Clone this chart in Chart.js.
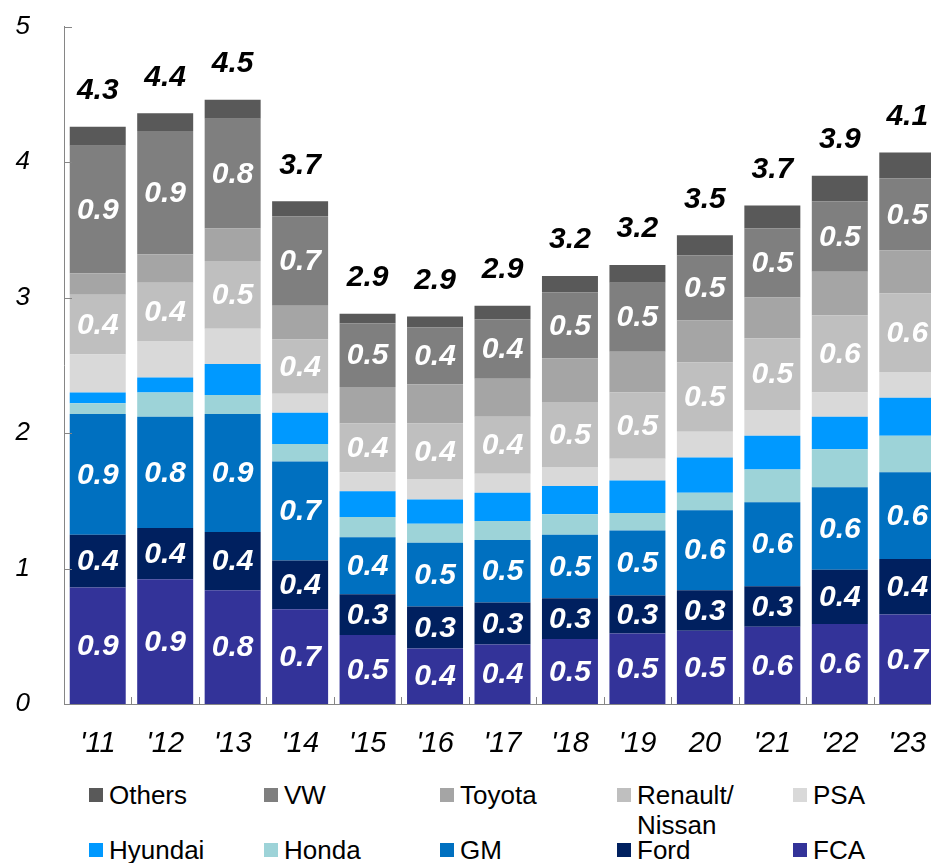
<!DOCTYPE html>
<html>
<head>
<meta charset="utf-8">
<script src="https://cdn.jsdelivr.net/npm/chart.js@4"></script>
<style>
  html, body { margin: 0; padding: 0; background: #fff; overflow: hidden; }
  #wrap { position: relative; width: 931px; height: 863px; overflow: hidden; }
  #chart { position: absolute; left: 0; top: -23px; }
  .lg { position: absolute; font-family: "Liberation Sans", Arial, sans-serif; font-size: 26px; color: #000; line-height: 30px; }
  .lg i { position: absolute; left: 0; top: 8px; width: 14px; height: 14px; }
  .lg span { position: absolute; left: 20px; top: 0; white-space: nowrap; }
</style>
</head>
<body>
<div id="wrap">
  <canvas id="chart" width="945" height="793"></canvas>
  <div id="legend"></div>
</div>
<script>
// ─── Data ───────────────────────────────────────────────────────
const years = ["'11", "'12", "'13", "'14", "'15", "'16", "'17", "'18", "'19", "20", "'21", "'22", "'23"];

const fca     = [0.86, 0.92, 0.84, 0.70, 0.51, 0.41, 0.44, 0.48, 0.52, 0.54, 0.57, 0.59, 0.66];
const ford    = [0.39, 0.38, 0.43, 0.36, 0.30, 0.31, 0.31, 0.30, 0.28, 0.30, 0.30, 0.40, 0.41];
const gm      = [0.89, 0.82, 0.87, 0.73, 0.42, 0.47, 0.46, 0.47, 0.48, 0.59, 0.62, 0.61, 0.64];
const honda   = [0.08, 0.18, 0.14, 0.13, 0.15, 0.14, 0.14, 0.15, 0.13, 0.13, 0.24, 0.28, 0.27];
const hyundai = [0.08, 0.11, 0.23, 0.23, 0.19, 0.18, 0.21, 0.21, 0.24, 0.26, 0.25, 0.24, 0.28];
const psa     = [0.28, 0.27, 0.26, 0.14, 0.14, 0.15, 0.14, 0.14, 0.16, 0.19, 0.19, 0.18, 0.19];
const renault = [0.44, 0.43, 0.50, 0.40, 0.36, 0.41, 0.42, 0.48, 0.49, 0.51, 0.53, 0.57, 0.58];
const toyota  = [0.16, 0.21, 0.24, 0.25, 0.27, 0.29, 0.28, 0.32, 0.30, 0.31, 0.30, 0.32, 0.32];
const vw      = [0.94, 0.91, 0.81, 0.66, 0.47, 0.42, 0.44, 0.49, 0.51, 0.48, 0.51, 0.52, 0.53];
const others  = [0.14, 0.13, 0.14, 0.11, 0.07, 0.08, 0.10, 0.12, 0.13, 0.15, 0.17, 0.19, 0.19];

const yTicks = [0, 1, 2, 3, 4, 5];

// bottom-to-top stacking order
const series = [
  { name: "FCA",             data: fca,     color: "#333399", label: true },
  { name: "Ford",            data: ford,    color: "#00205f", label: true },
  { name: "GM",              data: gm,      color: "#0070c0", label: true },
  { name: "Honda",           data: honda,   color: "#9dd3d8", label: false },
  { name: "Hyundai",         data: hyundai, color: "#0099ff", label: false },
  { name: "PSA",             data: psa,     color: "#d9d9d9", label: false },
  { name: "Renault/\nNissan", data: renault, color: "#bfbfbf", label: true },
  { name: "Toyota",          data: toyota,  color: "#a5a5a5", label: false },
  { name: "VW",              data: vw,      color: "#7f7f7f", label: true },
  { name: "Others",          data: others,  color: "#595959", label: false },
];

// legend grid: row 1 then row 2
const legendOrder = ["Others", "VW", "Toyota", "Renault/\nNissan", "PSA",
                     "Hyundai", "Honda", "GM", "Ford", "FCA"];

const fmt = (v) => (Math.round(v * 10 + 1e-6) / 10).toFixed(1);
const FONT = '"Liberation Sans", Arial, sans-serif';

// ─── Plugin: in-bar values, totals, inward ticks ────────────────
const labelsPlugin = {
  id: "labels",
  afterDatasetsDraw(chart) {
    const ctx = chart.ctx;
    const { left, bottom } = chart.chartArea;
    const x = chart.scales.x, y = chart.scales.y;

    ctx.save();
    ctx.strokeStyle = "#868686";
    ctx.lineWidth = 1;
    yTicks.forEach(t => {
      const py = Math.round(y.getPixelForValue(t)) + 0.5;
      ctx.beginPath(); ctx.moveTo(left, py); ctx.lineTo(left + 8, py); ctx.stroke();
    });
    for (let i = 1; i < years.length; i++) {
      const px = Math.round((x.getPixelForValue(i - 1) + x.getPixelForValue(i)) / 2) + 0.5;
      ctx.beginPath(); ctx.moveTo(px, bottom); ctx.lineTo(px, bottom - 7); ctx.stroke();
    }

    ctx.textAlign = "center";
    ctx.textBaseline = "middle";
    ctx.font = `italic bold 30px ${FONT}`;
    ctx.fillStyle = "#fff";
    chart.data.datasets.forEach((ds, di) => {
      if (!series[di].label) return;
      chart.getDatasetMeta(di).data.forEach((bar, i) => {
        ctx.fillText(fmt(ds.data[i]), bar.x, (bar.y + bar.base) / 2 + 1);
      });
    });

    ctx.fillStyle = "#000";
    const topMeta = chart.getDatasetMeta(chart.data.datasets.length - 1);
    years.forEach((_, i) => {
      const total = series.reduce((s, d) => s + d.data[i], 0);
      ctx.fillText(fmt(total), topMeta.data[i].x, topMeta.data[i].y - 36);
    });
    ctx.restore();
  }
};

new Chart(document.getElementById("chart").getContext("2d"), {
  type: "bar",
  data: {
    labels: years,
    datasets: series.map(s => ({
      label: s.name,
      data: s.data,
      backgroundColor: s.color,
      borderWidth: 0,
      barPercentage: 0.83,
      categoryPercentage: 1.0,
    }))
  },
  options: {
    responsive: false,
    animation: false,
    layout: { padding: { top: 2, right: 4, left: 0, bottom: 0 } },
    plugins: { legend: { display: false }, tooltip: { enabled: false } },
    scales: {
      x: {
        stacked: true,
        grid: { display: false },
        border: { display: true, color: "#868686", width: 1 },
        ticks: { color: "#000", font: { family: FONT, size: 29, style: "italic" }, padding: 15, maxRotation: 0 },
        afterFit: s => { s.height = 66; }
      },
      y: {
        stacked: true,
        min: 0, max: 5,
        afterBuildTicks: s => { s.ticks = yTicks.map(v => ({ value: v })); },
        grid: { display: false, drawTicks: false },
        border: { display: true, color: "#868686", width: 1 },
        ticks: { color: "#000", font: { family: FONT, size: 26, style: "italic" }, padding: 34 },
        afterFit: s => { s.width = 64; }
      }
    }
  },
  plugins: [labelsPlugin]
});

// ─── HTML legend ────────────────────────────────────────────────
const legendCols = [89, 264, 440, 617, 793];
const legendRows = [780, 835];
document.getElementById("legend").innerHTML = legendOrder.map((name, k) => {
  const s = series.find(d => d.name === name);
  const left = legendCols[k % 5], top = legendRows[Math.floor(k / 5)];
  const text = name.replace("\n", "<br>");
  return `<div class="lg" style="left:${left}px; top:${top}px;">
    <i style="background:${s.color};"></i><span>${text}</span></div>`;
}).join("");
</script>
</body>
</html>
